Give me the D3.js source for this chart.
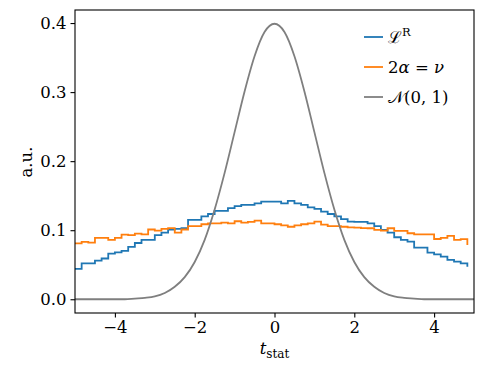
<!DOCTYPE html>
<html>
<head>
<meta charset="utf-8">
<script src="https://cdn.jsdelivr.net/npm/d3@7"></script>
<style>
  body { margin: 0; background: #fff; }
  svg { display: block; font-family: "DejaVu Serif", serif; }
  .axis text { font-size: 16.5px; fill: #000; font-family: "DejaVu Serif", serif; }
  .axis path, .axis line { stroke: #000; stroke-width: 1.1; }
  .label { font-size: 16.5px; }
</style>
</head>
<body>
<svg id="chart"></svg>
<script>
// histogram bin left edges: 60 bins of width 1/6 starting at -5
const binStart = -5;
const binWidth = 1 / 6;

// L^R histogram (blue)
const lrValues = [
  0.044, 0.052, 0.052, 0.056, 0.059, 0.066, 0.068, 0.070, 0.076, 0.0815,
  0.086, 0.086, 0.093, 0.0965, 0.101, 0.102, 0.103, 0.115, 0.115, 0.120,
  0.1235, 0.128, 0.128, 0.132, 0.135, 0.1366, 0.1366, 0.139, 0.1414, 0.1414,
  0.1414, 0.139, 0.1424, 0.139, 0.1366, 0.133, 0.131, 0.127, 0.1235, 0.120,
  0.116, 0.1124, 0.112, 0.112, 0.110, 0.106, 0.1004, 0.0965, 0.0898, 0.086,
  0.0834, 0.0748, 0.0748, 0.0675, 0.065, 0.0617, 0.057, 0.0545, 0.052, 0.047
];

// 2alpha = nu histogram (orange)
const alphaValues = [
  0.081, 0.083, 0.082, 0.0888, 0.089, 0.086, 0.089, 0.0936, 0.093, 0.095,
  0.094, 0.101, 0.0993, 0.102, 0.103, 0.0965, 0.101, 0.106, 0.106, 0.1086,
  0.110, 0.110, 0.111, 0.110, 0.113, 0.111, 0.112, 0.114, 0.110, 0.110,
  0.1086, 0.107, 0.105, 0.107, 0.1086, 0.110, 0.1124, 0.108, 0.106, 0.106,
  0.105, 0.104, 0.1037, 0.103, 0.1028, 0.1004, 0.0994, 0.1028, 0.099, 0.099,
  0.0956, 0.094, 0.094, 0.094, 0.0873, 0.089, 0.0917, 0.086, 0.087, 0.0786
];

// N(0,1) curve (grey), read every 0.25
const normX = d3.range(-20, 21).map(i => i / 4);
const normValues = [
  0.000, 0.000, 0.000, 0.000, 0.000, 0.000, 0.001, 0.002, 0.004, 0.009,
  0.018, 0.032, 0.054, 0.086, 0.130, 0.183, 0.242, 0.301, 0.352, 0.387,
  0.399,
  0.387, 0.352, 0.301, 0.242, 0.183, 0.130, 0.086, 0.054, 0.032, 0.018,
  0.009, 0.004, 0.002, 0.001, 0.000, 0.000, 0.000, 0.000, 0.000, 0.000
];

const xTicks = [-4, -2, 0, 2, 4];
const yTicks = [0.0, 0.1, 0.2, 0.3, 0.4];

const config = {
  containerWidth: 493,
  containerHeight: 370,
  margin: {top: 10, right: 19, bottom: 57, left: 75}
};
const width = config.containerWidth - config.margin.left - config.margin.right;
const height = config.containerHeight - config.margin.top - config.margin.bottom;

const svg = d3.select('#chart')
    .attr('width', config.containerWidth)
    .attr('height', config.containerHeight);

const chart = svg.append('g')
    .attr('transform', `translate(${config.margin.left},${config.margin.top})`);

const xScale = d3.scaleLinear().domain([-5, 5]).range([0, width]);
const yScale = d3.scaleLinear().domain([-0.0199, 0.4189]).range([height, 0]);

// clip so lines stay in the axes box
chart.append('clipPath').attr('id', 'clip')
  .append('rect').attr('width', width).attr('height', height);

const plot = chart.append('g').attr('clip-path', 'url(#clip)');

const stepLine = d3.line()
    .x((d, i) => xScale(binStart + i * binWidth))
    .y(d => yScale(d))
    .curve(d3.curveStepAfter);

plot.append('path')
    .datum(lrValues)
    .attr('fill', 'none')
    .attr('stroke', '#1f77b4')
    .attr('stroke-width', 1.8)
    .attr('d', stepLine);

plot.append('path')
    .datum(alphaValues)
    .attr('fill', 'none')
    .attr('stroke', '#ff7f0e')
    .attr('stroke-width', 1.8)
    .attr('d', stepLine);

const normLine = d3.line()
    .x((d, i) => xScale(normX[i]))
    .y(d => yScale(d))
    .curve(d3.curveMonotoneX);

plot.append('path')
    .datum(normValues)
    .attr('fill', 'none')
    .attr('stroke', '#7f7f7f')
    .attr('stroke-width', 1.8)
    .attr('d', normLine);

// axes
const xAxis = d3.axisBottom(xScale).tickValues(xTicks).tickSize(4.5).tickPadding(4)
    .tickSizeOuter(0);
const yAxis = d3.axisLeft(yScale).tickValues(yTicks).tickSize(4.5).tickPadding(4)
    .tickFormat(d3.format('.1f')).tickSizeOuter(0);

chart.append('g').attr('class', 'axis')
    .attr('transform', `translate(0,${height})`)
    .call(xAxis)
    .call(g => g.select('.domain').remove());

chart.append('g').attr('class', 'axis')
    .call(yAxis)
    .call(g => g.select('.domain').remove());

// axes frame
chart.append('rect')
    .attr('width', width)
    .attr('height', height)
    .attr('fill', 'none')
    .attr('stroke', '#000')
    .attr('stroke-width', 1.1);

// axis titles
const xTitle = svg.append('text')
    .attr('class', 'label')
    .attr('x', config.margin.left + xScale(0))
    .attr('y', 354)
    .attr('text-anchor', 'middle');
xTitle.append('tspan').attr('font-style', 'italic').text('t');
xTitle.append('tspan').attr('font-size', '12px').attr('dy', 4).text('stat');

svg.append('text')
    .attr('class', 'label')
    .attr('transform', 'translate(32,162) rotate(-90)')
    .attr('text-anchor', 'middle')
    .text('a.u.');

// legend
const legendItems = [
  {color: '#1f77b4', parts: [['ℒ', {}], ['R', {size: '11.5px', dy: -7}]]},
  {color: '#ff7f0e', parts: [['2', {}], ['α', {italic: true}], [' = ', {}], ['ν', {italic: true}]]},
  {color: '#7f7f7f', parts: [['𝒩', {}], ['(0, 1)', {}]]}
];

const legend = svg.append('g').attr('transform', 'translate(364,37)');
legendItems.forEach((item, i) => {
  const row = legend.append('g').attr('transform', `translate(0,${i * 30})`);
  row.append('line')
      .attr('x1', 0).attr('x2', 19)
      .attr('stroke', item.color)
      .attr('stroke-width', 1.8);
  const t = row.append('text')
      .attr('class', 'label')
      .attr('x', 24)
      .attr('y', 6);
  item.parts.forEach(([txt, o]) => {
    const s = t.append('tspan').text(txt);
    if (o.italic) s.attr('font-style', 'italic');
    if (o.size) s.attr('font-size', o.size);
    if (o.dy) s.attr('dy', o.dy);
  });
});
</script>
</body>
</html>
